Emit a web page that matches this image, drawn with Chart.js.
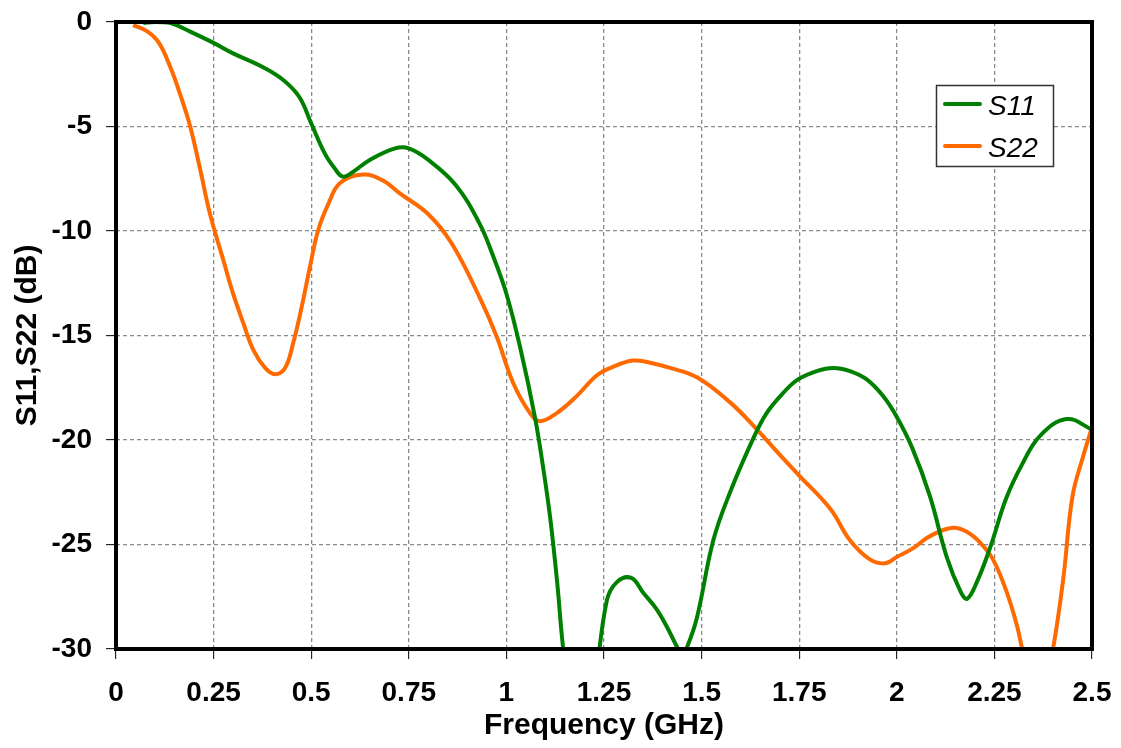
<!DOCTYPE html>
<html>
<head>
<meta charset="utf-8">
<script src="https://cdn.jsdelivr.net/npm/chart.js@4.4.1/dist/chart.umd.min.js"></script>
<style>
  html, body { margin: 0; padding: 0; background: #ffffff; }
  #wrap { width: 1121px; height: 748px; position: relative; }
</style>
</head>
<body>
<div id="wrap"><canvas id="c" width="1121" height="748"></canvas></div>
<script>
// ---- data ----
const s11Freq = [0.07, 0.10, 0.14, 0.19, 0.25, 0.30, 0.38, 0.43, 0.47, 0.50, 0.535, 0.56, 0.581, 0.605, 0.65, 0.715, 0.75, 0.80, 0.87, 0.93, 0.966, 1.0, 1.035, 1.073, 1.094, 1.112, 1.13, 1.145, 1.17, 1.20, 1.225, 1.257, 1.283, 1.32, 1.35, 1.385, 1.41, 1.437, 1.45, 1.463, 1.488, 1.53, 1.573, 1.633, 1.667, 1.709, 1.747, 1.795, 1.837, 1.88, 1.923, 1.965, 2.0, 2.04, 2.085, 2.128, 2.162, 2.18, 2.205, 2.24, 2.28, 2.32, 2.367, 2.435, 2.5];
const s11Values = [-0.05, 0.0, -0.05, -0.46, -1.0, -1.5, -2.2, -2.8, -3.6, -4.85, -6.3, -7.0, -7.4, -7.2, -6.6, -6.05, -6.05, -6.6, -7.8, -9.6, -11.2, -13.0, -15.55, -18.9, -21.3, -23.7, -26.8, -29.9, -33.5, -34.5, -32.0, -27.7, -26.8, -26.6, -27.3, -28.1, -28.9, -29.9, -30.3, -29.9, -28.5, -24.8, -22.5, -19.9, -18.7, -17.75, -17.1, -16.7, -16.55, -16.7, -17.1, -17.9, -18.9, -20.4, -22.7, -25.6, -27.2, -27.6, -26.8, -25.1, -22.8, -21.2, -19.8, -19.0, -19.5];

const s22Freq = [0.044, 0.08, 0.11, 0.14, 0.165, 0.19, 0.215, 0.241, 0.275, 0.30, 0.326, 0.352, 0.382, 0.407, 0.433, 0.454, 0.476, 0.497, 0.518, 0.544, 0.574, 0.633, 0.685, 0.727, 0.80, 0.86, 0.932, 0.975, 1.018, 1.06, 1.086, 1.13, 1.18, 1.232, 1.273, 1.324, 1.368, 1.419, 1.488, 1.573, 1.642, 1.70, 1.75, 1.83, 1.88, 1.93, 1.97, 2.0, 2.04, 2.085, 2.144, 2.18, 2.213, 2.246, 2.282, 2.308, 2.32, 2.34, 2.36, 2.38, 2.40, 2.426, 2.45, 2.477, 2.5];
const s22Values = [-0.15, -0.45, -1.0, -2.2, -3.5, -5.0, -7.0, -9.2, -11.4, -13.0, -14.4, -15.7, -16.55, -16.85, -16.55, -15.35, -13.6, -11.7, -9.95, -8.7, -7.7, -7.3, -7.6, -8.2, -9.2, -10.6, -13.2, -15.05, -17.3, -18.7, -19.1, -18.7, -17.9, -16.9, -16.5, -16.2, -16.3, -16.55, -17.0, -18.2, -19.5, -20.7, -21.7, -23.3, -24.8, -25.7, -25.9, -25.6, -25.2, -24.6, -24.2, -24.4, -24.9, -25.7, -27.3, -28.9, -29.9, -31.5, -32.5, -31.5, -30.0, -26.7, -22.7, -20.8, -19.4];

const seriesNames = ['S11', 'S22'];
const xTickValues = [0, 0.25, 0.5, 0.75, 1, 1.25, 1.5, 1.75, 2, 2.25, 2.5];
const yTickValues = [0, -5, -10, -15, -20, -25, -30];
const xTitle = 'Frequency (GHz)';
const yTitle = 'S11,S22 (dB)';

const toPoints = (xs, ys) => xs.map((x, i) => ({ x: x, y: ys[i] }));

const FONT = "'Liberation Sans', Arial, sans-serif";

const frame = {
  id: 'frame',
  afterDatasetsDraw(chart) {
    const { ctx, chartArea: a } = chart;
    ctx.save();
    ctx.strokeStyle = '#000';
    ctx.lineWidth = 4;
    ctx.strokeRect(a.left, a.top, a.right - a.left, a.bottom - a.top);
    ctx.restore();
  }
};

const legendBox = {
  id: 'legendBox',
  afterDraw(chart) {
    const { ctx } = chart;
    const x0 = 936, y0 = 85, w = 117, h = 81;
    ctx.save();
    ctx.fillStyle = '#fff';
    ctx.fillRect(x0, y0, w, h);
    ctx.strokeStyle = '#333';
    ctx.lineWidth = 1.5;
    ctx.strokeRect(x0 + 0.5, y0 + 0.5, w, h);
    const rows = [104, 146];
    chart.data.datasets.forEach((ds, i) => {
      ctx.strokeStyle = ds.borderColor;
      ctx.lineWidth = 4;
      ctx.lineCap = 'round';
      ctx.beginPath();
      ctx.moveTo(945, rows[i]);
      ctx.lineTo(980, rows[i]);
      ctx.stroke();
      ctx.fillStyle = '#000';
      ctx.font = "italic 28px " + FONT;
      ctx.textBaseline = 'middle';
      ctx.textAlign = 'left';
      ctx.fillText(ds.label, 988, rows[i] + 3);
    });
    ctx.restore();
  }
};

const gridOpts = { color: '#8a8a8a', lineWidth: 1.3, tickLength: 10, tickColor: '#000', tickWidth: 1, tickBorderDash: [] };
const borderOpts = { display: false, dash: [4, 3] };

new Chart(document.getElementById('c'), {
  type: 'line',
  data: {
    datasets: [
      { label: seriesNames[0], data: toPoints(s11Freq, s11Values), borderColor: '#008000', borderWidth: 4, pointRadius: 0, tension: 0.4, fill: false },
      { label: seriesNames[1], data: toPoints(s22Freq, s22Values), borderColor: '#FF6A00', borderWidth: 4, pointRadius: 0, tension: 0.4, fill: false }
    ]
  },
  options: {
    responsive: false,
    animation: false,
    events: [],
    layout: { padding: { top: 22, right: 29, left: 0, bottom: 0 } },
    plugins: { legend: { display: false }, tooltip: { enabled: false } },
    scales: {
      x: {
        type: 'linear', min: 0, max: 2.5,
        afterBuildTicks(scale) { scale.ticks = xTickValues.map(v => ({ value: v })); },
        afterFit(scale) { scale.height = 99; scale.paddingLeft = 0; scale.paddingRight = 0; },
        ticks: {
          color: '#000', padding: 17, maxRotation: 0, autoSkip: false,
          font: { family: FONT, size: 28, weight: 'bold' },
          callback: v => String(v)
        },
        grid: gridOpts,
        border: borderOpts,
        title: { display: true, text: xTitle, color: '#000', font: { family: FONT, size: 30, weight: 'bold' }, padding: { top: 0, bottom: 4 } }
      },
      y: {
        type: 'linear', min: -30, max: 0,
        afterBuildTicks(scale) { scale.ticks = yTickValues.map(v => ({ value: v })); },
        afterFit(scale) { scale.width = 116; scale.paddingTop = 0; scale.paddingBottom = 0; },
        ticks: {
          color: '#000', padding: 14, autoSkip: false,
          font: { family: FONT, size: 28, weight: 'bold' },
          callback: v => String(v)
        },
        grid: gridOpts,
        border: borderOpts,
        title: { display: true, text: yTitle, color: '#000', font: { family: FONT, size: 30, weight: 'bold' }, padding: { top: 10, bottom: 0 } }
      }
    }
  },
  plugins: [frame, legendBox]
});
</script>
</body>
</html>
